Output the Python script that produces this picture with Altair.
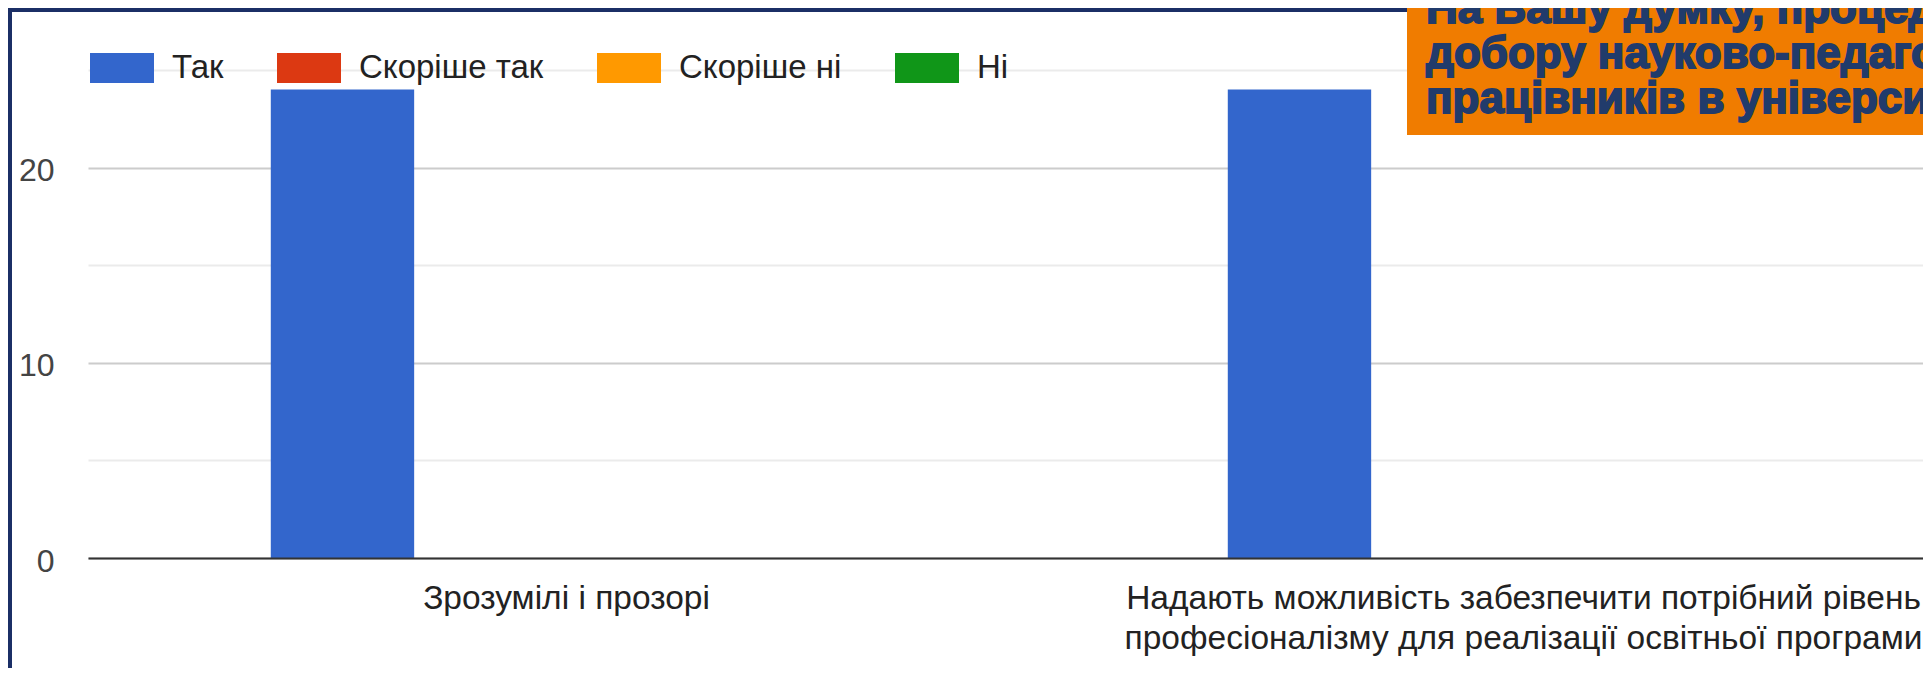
import altair as alt
import pandas as pd

# ---- data ----
categories = [
    "Зрозумілі і прозорі",
    "Надають можливість забезпечити потрібний рівень|професіоналізму для реалізації освітньої програми",
]
series = ["Так", "Скоріше так", "Скоріше ні", "Ні"]
colors = ["#3366CC", "#DC3912", "#FF9900", "#109618"]

tak = [24, 24]
skorishe_tak = [0, 0]
skorishe_ni = [0, 0]
ni = [0, 0]

y_ticks = [0, 5, 10, 15, 20, 25]
title_lines = [
    "На Вашу думку, процедури",
    "добору науково-педагогічних",
    "працівників в університеті",
]

series_values = [tak, skorishe_tak, skorishe_ni, ni]
rows = []
for s, vals in zip(series, series_values):
    for c, v in zip(categories, vals):
        rows.append({"category": c, "series": s, "value": v})
df = pd.DataFrame(rows)
one = pd.DataFrame({"k": [0]})

FONT = "Liberation Sans"
NAVY = "#213B6B"

bars = alt.Chart(df).mark_bar().encode(
    x=alt.X(
        "category:N",
        sort=categories,
        scale=alt.Scale(domain=categories, range=[0, 1914], paddingInner=0.382, paddingOuter=0.191),
        axis=alt.Axis(
            title=None,
            labelExpr="split(datum.label, '|')",
            labelFontSize=33.5,
            labelFont=FONT,
            labelColor="#222222",
            labelLimit=1000,
            labelLineHeight=40,
            labelPadding=24,
            labelAngle=0,
            labelBaseline="top",
            ticks=False,
            tickSize=0,
            domain=True,
            domainColor="#333333",
            domainWidth=2,
            grid=False,
            zindex=1,
        ),
    ),
    xOffset=alt.XOffset(
        "series:N",
        sort=series,
        scale=alt.Scale(domain=series, paddingInner=0.04, paddingOuter=0),
    ),
    y=alt.Y(
        "value:Q",
        scale=alt.Scale(domain=[0, 25], nice=False, zero=True),
        axis=alt.Axis(
            title=None,
            values=y_ticks,
            labelExpr="datum.value % 10 === 0 ? datum.label : ''",
            gridColor=alt.condition("datum.value % 10 === 0", alt.value("#cccccc"), alt.value("#ebebeb")),
            gridWidth=2,
            domain=False,
            ticks=False,
            tickSize=0,
            labelFontSize=32,
            labelFont=FONT,
            labelColor="#444444",
            labelPadding=34,
            labelOffset=3,
        ),
    ),
    color=alt.Color(
        "series:N",
        sort=series,
        scale=alt.Scale(domain=series, range=colors),
        legend=alt.Legend(
            title=None,
            orient="none",
            legendX=2,
            legendY=-34,
            direction="horizontal",
            symbolType="M-1,-0.47H1V0.47H-1Z",
            symbolSize=4096,
            symbolStrokeWidth=0,
            symbolOpacity=1,
            labelFontSize=33,
            labelFont=FONT,
            labelColor="#222222",
            labelOffset=18,
            columnPadding=53,
            labelLimit=1000,
            padding=0,
        ),
    ),
)

title_box = alt.Chart(one).mark_rect(color="#F07C00").encode(
    x=alt.value(1319), x2=alt.value(1900), y=alt.value(-90), y2=alt.value(65)
)

title_text = alt.Chart(one).mark_text(
    align="left",
    baseline="alphabetic",
    fontSize=44,
    font=FONT,
    fontWeight="bold",
    color=NAVY,
    stroke=NAVY,
    strokeWidth=1.8,
    lineHeight=45,
).encode(x=alt.value(1338), y=alt.value(-47), text=alt.value(title_lines))

border_top = alt.Chart(one).mark_rect(color="#1B2F66").encode(
    x=alt.value(-80), x2=alt.value(1319), y=alt.value(-62), y2=alt.value(-58)
)
border_left = alt.Chart(one).mark_rect(color="#1B2F66").encode(
    x=alt.value(-80), x2=alt.value(-76), y=alt.value(-62), y2=alt.value(640)
)

chart = alt.layer(bars, title_box, title_text, border_top, border_left).properties(
    width=1835,
    height=488,
    autosize=alt.AutoSizeParams(type="none"),
    padding={"left": 80, "top": 62, "right": 0, "bottom": 110},
    background="white",
).configure_view(stroke=None)

chart.save("out.html", embed_options={"renderer": "svg", "actions": False})
